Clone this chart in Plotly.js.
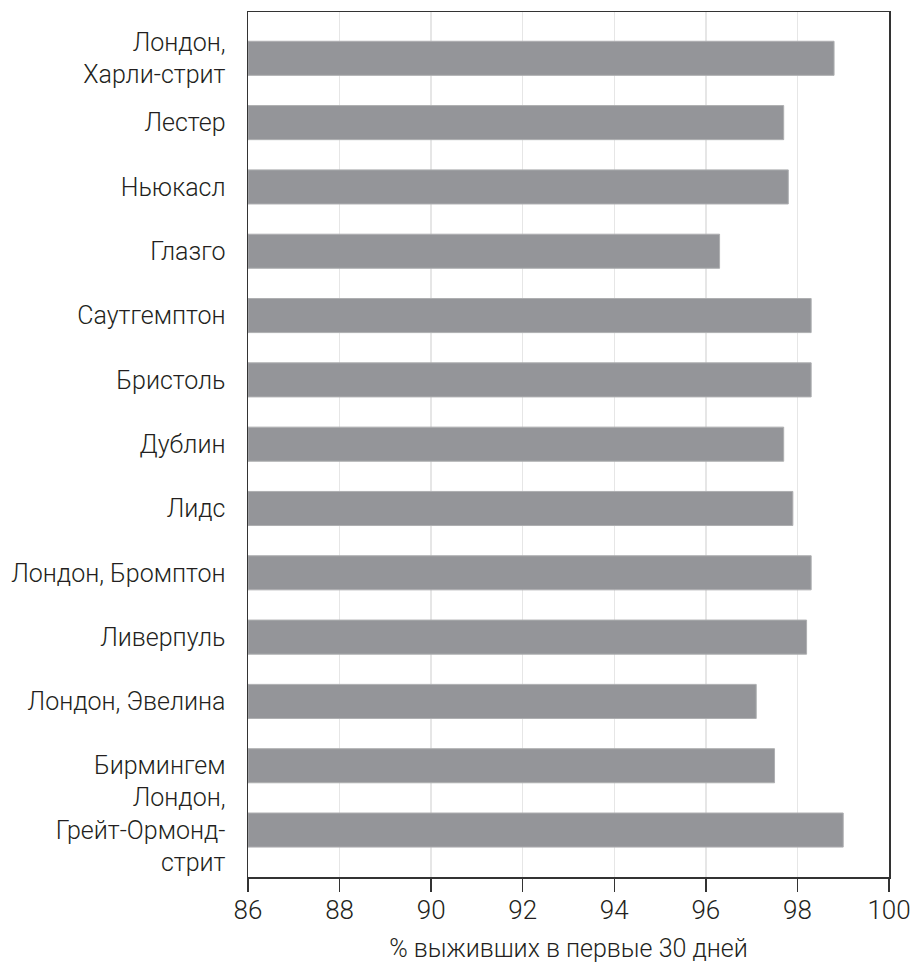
<!DOCTYPE html>
<html>
<head>
<meta charset="utf-8">
<script src="https://cdn.plot.ly/plotly-3.0.1.min.js"></script>
<style>html,body{margin:0;padding:0;background:#fff;}#chart{width:912px;height:963px;}</style>
</head>
<body>
<div id="chart"></div>
<script>
const categories = [
  "Лондон,<br>Харли-стрит",
  "Лестер",
  "Ньюкасл",
  "Глазго",
  "Саутгемптон",
  "Бристоль",
  "Дублин",
  "Лидс",
  "Лондон, Бромптон",
  "Ливерпуль",
  "Лондон, Эвелина",
  "Бирмингем",
  "Лондон,<br>Грейт-Ормонд-<br>стрит"
];
const survival = [98.8, 97.7, 97.8, 96.3, 98.3, 98.3, 97.7, 97.9, 98.3, 98.2, 97.1, 97.5, 99.0];
const xTicks = [86, 88, 90, 92, 94, 96, 98, 100];
const xTitle = "% выживших в первые 30 дней";

const FONT = "'Roboto', 'DejaVu Sans', sans-serif";

const trace = {
  type: "bar",
  orientation: "h",
  y: categories,
  x: survival.map(v => v - 86),
  base: 86,
  width: 0.53,
  marker: {color: "#949599", line: {color: "#aeafb1", width: 1}},
  hoverinfo: "x+y"
};

const layout = {
  width: 912,
  height: 963,
  margin: {l: 248, r: 23, t: 12, b: 86, pad: 0},
  paper_bgcolor: "#ffffff",
  plot_bgcolor: "#ffffff",
  showlegend: false,
  font: {family: FONT, color: "#231f20", size: 24, weight: 300},
  xaxis: {
    range: [86, 100],
    tickvals: xTicks,
    ticktext: xTicks.map(String),
    showgrid: true,
    gridcolor: "#e6e6e6",
    gridwidth: 1.5,
    zeroline: false,
    showline: true,
    linecolor: "#333333",
    linewidth: 1.5,
    mirror: true,
    ticks: "outside",
    ticklen: 13,
    tickwidth: 1.5,
    tickcolor: "#333333",
    ticklabelstandoff: -4,
    tickfont: {family: FONT, size: 26, color: "#231f20", weight: 300},
    title: {text: xTitle, font: {family: FONT, size: 25, color: "#231f20", weight: 300}, standoff: 19}
  },
  yaxis: {
    type: "category",
    range: [12.73, -0.72],
    showgrid: false,
    zeroline: false,
    showline: true,
    linecolor: "#333333",
    linewidth: 1.5,
    mirror: true,
    ticks: "",
    ticklabelstandoff: 16,
    tickfont: {family: FONT, size: 25, color: "#231f20", weight: 300}
  },
  bargap: 0.47
};

Plotly.newPlot("chart", [trace], layout, {displayModeBar: false, staticPlot: true});
</script>
</body>
</html>
